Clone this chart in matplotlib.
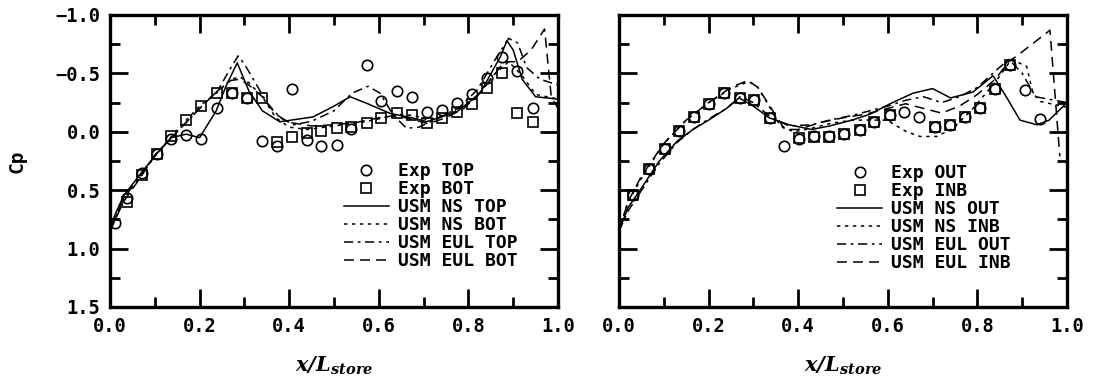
import matplotlib
matplotlib.use("Agg")
import matplotlib.pyplot as plt
from matplotlib.ticker import MultipleLocator, FuncFormatter

# ---------------- data: left panel (TOP / BOT) ----------------
L_exp_top_x = [0.011, 0.037, 0.071, 0.104, 0.137, 0.170, 0.204, 0.238, 0.272, 0.305,
               0.339, 0.372, 0.406, 0.439, 0.472, 0.506, 0.539, 0.573, 0.606, 0.640,
               0.673, 0.707, 0.740, 0.774, 0.807, 0.841, 0.874, 0.908, 0.944]
L_exp_top_y = [0.78, 0.57, 0.35, 0.19, 0.06, 0.03, 0.06, -0.20, -0.33, -0.29,
               0.08, 0.12, -0.37, 0.07, 0.12, 0.11, -0.02, -0.57, -0.26, -0.35,
               -0.30, -0.17, -0.19, -0.25, -0.32, -0.46, -0.64, -0.52, -0.20]
L_exp_bot_x = [0.037, 0.071, 0.104, 0.137, 0.170, 0.204, 0.238, 0.272, 0.305, 0.339,
               0.372, 0.406, 0.439, 0.472, 0.506, 0.539, 0.573, 0.606, 0.640, 0.673,
               0.707, 0.740, 0.774, 0.807, 0.842, 0.876, 0.908, 0.944]
L_exp_bot_y = [0.60, 0.37, 0.19, 0.04, -0.10, -0.22, -0.33, -0.33, -0.29, -0.29,
               0.085, 0.045, 0.013, -0.007, -0.03, -0.044, -0.073, -0.115, -0.158, -0.144,
               -0.073, -0.115, -0.172, -0.235, -0.378, -0.506, -0.158, -0.08]

L_ns_top_x = [0.0, 0.01, 0.03, 0.07, 0.104, 0.137, 0.17, 0.2, 0.237, 0.26, 0.284, 0.31,
              0.34, 0.379, 0.453, 0.50, 0.536, 0.573, 0.625, 0.676, 0.707, 0.774, 0.826,
              0.871, 0.886, 0.90, 0.92, 0.95, 1.0]
L_ns_top_y = [0.85, 0.72, 0.55, 0.35, 0.19, 0.05, 0.02, 0.05, -0.18, -0.40, -0.59, -0.35,
              -0.18, -0.086, -0.127, -0.22, -0.30, -0.244, -0.158, -0.118, -0.087, -0.17, -0.33,
              -0.64, -0.78, -0.70, -0.45, -0.30, -0.28]
L_ns_bot_x = [0.0, 0.03, 0.07, 0.104, 0.137, 0.17, 0.2, 0.24, 0.27, 0.29, 0.31, 0.34,
              0.37, 0.40, 0.44, 0.48, 0.52, 0.56, 0.6, 0.64, 0.68, 0.71, 0.74, 0.78, 0.82,
              0.86, 0.89, 0.92, 0.95, 1.0]
L_ns_bot_y = [0.85, 0.58, 0.37, 0.19, 0.04, -0.10, -0.22, -0.34, -0.45, -0.47, -0.42, -0.30,
              -0.12, -0.04, -0.02, -0.04, -0.06, -0.08, -0.11, -0.15, -0.14, -0.10, -0.13, -0.19, -0.31,
              -0.50, -0.60, -0.48, -0.32, -0.28]
L_eul_top_x = [0.0, 0.03, 0.07, 0.1, 0.137, 0.17, 0.2, 0.24, 0.27, 0.286, 0.30, 0.32,
               0.35, 0.38, 0.41, 0.45, 0.50, 0.54, 0.576, 0.603, 0.632, 0.662, 0.69, 0.74,
               0.78, 0.82, 0.86, 0.89, 0.91, 0.93, 0.96, 1.0]
L_eul_top_y = [0.85, 0.57, 0.37, 0.20, 0.05, -0.08, -0.20, -0.35, -0.55, -0.65, -0.58, -0.45,
               -0.25, -0.12, -0.06, -0.09, -0.18, -0.33, -0.39, -0.33, -0.144, -0.03, -0.04, -0.13,
               -0.21, -0.36, -0.62, -0.80, -0.76, -0.55, -0.45, -0.40]
L_eul_bot_x = [0.0, 0.03, 0.07, 0.1, 0.137, 0.17, 0.2, 0.24, 0.27, 0.29, 0.31, 0.34,
               0.37, 0.40, 0.45, 0.50, 0.55, 0.60, 0.64, 0.68, 0.71, 0.75, 0.79, 0.83,
               0.86, 0.88, 0.91, 0.94, 0.97, 0.985, 1.0]
L_eul_bot_y = [0.85, 0.60, 0.38, 0.20, 0.05, -0.08, -0.20, -0.35, -0.44, -0.45, -0.40, -0.30,
               -0.15, -0.08, -0.05, -0.06, -0.08, -0.12, -0.14, -0.10, -0.07, -0.12, -0.20, -0.35,
               -0.50, -0.60, -0.60, -0.70, -0.88, -0.30, -0.20]

# ---------------- data: right panel (OUT / INB) ----------------
R_exp_out_x = [0.032, 0.068, 0.103, 0.135, 0.168, 0.202, 0.234, 0.269, 0.301, 0.337,
               0.369, 0.402, 0.436, 0.469, 0.503, 0.537, 0.570, 0.604, 0.637, 0.670,
               0.705, 0.739, 0.772, 0.806, 0.839, 0.873, 0.906, 0.940]
R_exp_out_y = [0.54, 0.32, 0.15, -0.01, -0.13, -0.24, -0.33, -0.29, -0.27, -0.12,
               0.12, 0.06, 0.04, 0.04, 0.02, -0.015, -0.086, -0.144, -0.167, -0.129,
               -0.04, -0.058, -0.13, -0.20, -0.364, -0.572, -0.358, -0.11]
R_exp_inb_x = [0.032, 0.068, 0.103, 0.135, 0.168, 0.202, 0.234, 0.269, 0.301, 0.337,
               0.402, 0.436, 0.469, 0.503, 0.537, 0.570, 0.604, 0.705, 0.739, 0.772,
               0.806, 0.839, 0.873]
R_exp_inb_y = [0.54, 0.32, 0.15, -0.01, -0.13, -0.24, -0.33, -0.29, -0.27, -0.12,
               0.056, 0.042, 0.042, 0.019, -0.015, -0.086, -0.144, -0.04, -0.058, -0.13,
               -0.20, -0.364, -0.572]

R_ns_out_x = [0.0, 0.02, 0.047, 0.09, 0.13, 0.165, 0.2, 0.24, 0.268, 0.30, 0.335, 0.38,
              0.43, 0.47, 0.52, 0.56, 0.605, 0.656, 0.70, 0.74, 0.79, 0.835, 0.866, 0.895,
              0.933, 0.96, 1.0]
R_ns_out_y = [0.85, 0.65, 0.50, 0.25, 0.08, -0.02, -0.10, -0.20, -0.29, -0.22, -0.12, -0.06,
              -0.02, -0.05, -0.10, -0.15, -0.24, -0.33, -0.37, -0.29, -0.34, -0.48, -0.29, -0.10,
              -0.06, -0.10, -0.25]
R_ns_inb_x = [0.0, 0.02, 0.05, 0.1, 0.15, 0.2, 0.25, 0.29, 0.31, 0.335, 0.36, 0.39, 0.43,
              0.47, 0.52, 0.56, 0.598, 0.642, 0.672, 0.709, 0.746, 0.79, 0.839, 0.876, 0.91,
              0.924, 0.94, 1.0]
R_ns_inb_y = [0.85, 0.60, 0.40, 0.10, -0.10, -0.25, -0.37, -0.43, -0.38, -0.22, -0.05, 0.0,
              -0.03, -0.07, -0.10, -0.10, -0.10, 0.0, 0.04, 0.04, -0.03, -0.20, -0.42, -0.62,
              -0.56, -0.33, -0.26, -0.21]
R_eul_out_x = [0.0, 0.02, 0.047, 0.09, 0.13, 0.165, 0.2, 0.24, 0.27, 0.30, 0.34, 0.38,
               0.43, 0.47, 0.52, 0.56, 0.60, 0.64, 0.68, 0.72, 0.76, 0.80, 0.84, 0.87,
               0.90, 0.93, 1.0]
R_eul_out_y = [0.85, 0.68, 0.52, 0.27, 0.09, -0.02, -0.11, -0.20, -0.30, -0.25, -0.12, -0.05,
               -0.06, -0.10, -0.14, -0.18, -0.22, -0.27, -0.30, -0.25, -0.30, -0.38, -0.52, -0.62,
               -0.50, -0.30, -0.25]
R_eul_inb_x = [0.0, 0.02, 0.05, 0.1, 0.15, 0.2, 0.25, 0.288, 0.31, 0.34, 0.37, 0.40,
               0.45, 0.50, 0.55, 0.60, 0.64, 0.68, 0.72, 0.76, 0.80, 0.84, 0.87, 0.895,
               0.962, 0.984]
R_eul_inb_y = [0.85, 0.60, 0.38, 0.10, -0.10, -0.25, -0.38, -0.44, -0.38, -0.20, -0.02, -0.02,
               -0.08, -0.12, -0.15, -0.20, -0.24, -0.20, -0.16, -0.22, -0.32, -0.45, -0.60, -0.67,
               -0.87, 0.21]

left_labels = ["Exp TOP", "Exp BOT", "USM NS TOP", "USM NS BOT", "USM EUL TOP", "USM EUL BOT"]
right_labels = ["Exp OUT", "Exp INB", "USM NS OUT", "USM NS INB", "USM EUL OUT", "USM EUL INB"]
xticks = [0.0, 0.2, 0.4, 0.6, 0.8, 1.0]
yticks = [-1.0, -0.5, 0.0, 0.5, 1.0, 1.5]

# ---------------- styling ----------------
FONT = "DejaVu Sans Mono"
plt.rcParams["font.family"] = [FONT, "DejaVu Sans"]
plt.rcParams["font.weight"] = "bold"
plt.rcParams["mathtext.fontset"] = "dejavuserif"

fig = plt.figure(figsize=(10.93, 3.86), dpi=100)
W, H = 1093, 386
axL = fig.add_axes([110 / W, 1 - 307 / H, 448 / W, 292 / H])
axR = fig.add_axes([619 / W, 1 - 307 / H, 448 / W, 292 / H])

LW = 1.1
styles = {
    "solid": dict(color="black", lw=LW, ls="-"),
    "dot": dict(color="black", lw=LW, ls=(0, (2.2, 3.0))),
    "dashdot": dict(color="black", lw=LW, ls=(0, (6, 3, 1.8, 3))),
    "dash": dict(color="black", lw=LW, ls=(0, (6.5, 4))),
}
mk = dict(ls="none", mfc="none", mec="black", mew=1.2, ms=7.5)

fmt = FuncFormatter(lambda v, p: ("%.1f" % v).replace("-", "\u2212"))


def draw(ax, ex1, ex2, l1, l2, l3, l4, show_ylabels):
    h1, = ax.plot(ex1[0], ex1[1], marker="o", **mk)
    h2, = ax.plot(ex2[0], ex2[1], marker="s", **dict(mk, ms=7))
    h3, = ax.plot(l1[0], l1[1], **styles["solid"])
    h4, = ax.plot(l2[0], l2[1], **styles["dot"])
    h5, = ax.plot(l3[0], l3[1], **styles["dashdot"])
    h6, = ax.plot(l4[0], l4[1], **styles["dash"])
    ax.set_xlim(0, 1)
    ax.set_ylim(1.5, -1.0)
    ax.set_xticks(xticks)
    ax.set_yticks(yticks)
    ax.xaxis.set_minor_locator(MultipleLocator(0.1))
    ax.yaxis.set_minor_locator(MultipleLocator(0.25))
    ax.xaxis.set_major_formatter(fmt)
    ax.yaxis.set_major_formatter(fmt)
    ax.tick_params(which="both", direction="in", top=True, right=True, width=2.0,
                   labelsize=13.5, pad=7)
    ax.tick_params(which="major", length=13)
    ax.tick_params(which="minor", length=7)
    if not show_ylabels:
        ax.tick_params(labelleft=False)
    for s in ax.spines.values():
        s.set_linewidth(2.4)
    for t in ax.get_xticklabels() + ax.get_yticklabels():
        t.set_fontweight("bold")
    return [h1, h2, h3, h4, h5, h6]


hL = draw(axL, (L_exp_top_x, L_exp_top_y), (L_exp_bot_x, L_exp_bot_y),
          (L_ns_top_x, L_ns_top_y), (L_ns_bot_x, L_ns_bot_y),
          (L_eul_top_x, L_eul_top_y), (L_eul_bot_x, L_eul_bot_y), True)
hR = draw(axR, (R_exp_out_x, R_exp_out_y), (R_exp_inb_x, R_exp_inb_y),
          (R_ns_out_x, R_ns_out_y), (R_ns_inb_x, R_ns_inb_y),
          (R_eul_out_x, R_eul_out_y), (R_eul_inb_x, R_eul_inb_y), False)

leg_font = dict(family=FONT, weight="bold", size=13)
common = dict(frameon=False, prop=leg_font, handlelength=2.5, handletextpad=0.5,
              borderpad=0, borderaxespad=0, labelspacing=0.0, loc="lower right")
axL.legend(hL, left_labels, bbox_to_anchor=(0.91, 0.125), **common)
axR.legend(hR, right_labels, bbox_to_anchor=(0.875, 0.12), **common)

fig.text(17 / W, 1 - 161 / H, "Cp", rotation=90, ha="center", va="center",
         fontsize=14, fontweight="bold", family=FONT)
xlab = r"$\mathbfit{x/L}_{\mathbfit{store}}$"
fig.text(334 / W, 1 - 366 / H, xlab, ha="center", va="center", fontsize=15)
fig.text(843 / W, 1 - 366 / H, xlab, ha="center", va="center", fontsize=15)

fig.savefig("out.png", dpi=100)
